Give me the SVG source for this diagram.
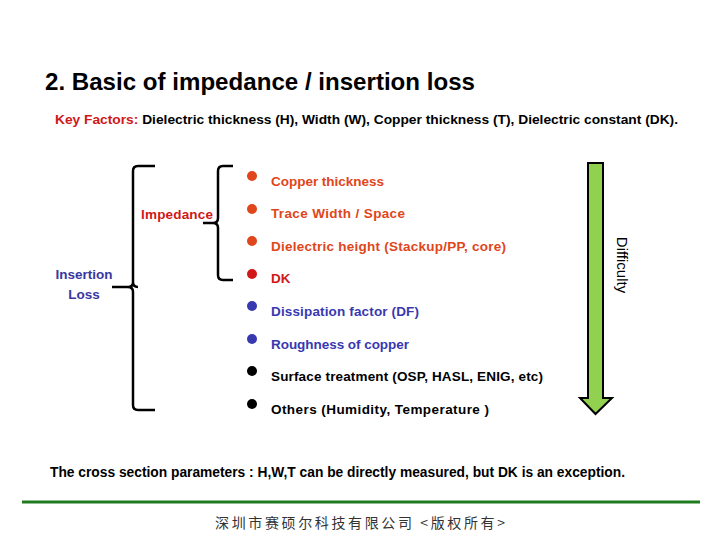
<svg xmlns="http://www.w3.org/2000/svg" width="720" height="540" viewBox="0 0 720 540">
<style>
text{font-family:"Liberation Sans",Arial,sans-serif;font-weight:bold}
.it{font-size:13.5px}
.o{fill:#E0461B}.r{fill:#D01818}.b{fill:#3838B0}.k{fill:#000}
.br{fill:none;stroke:#000;stroke-width:2.5}
</style>
<rect width="720" height="540" fill="#fff"/>
<text x="45" y="90" font-size="24" textLength="430" lengthAdjust="spacingAndGlyphs">2. Basic of impedance / insertion loss</text>
<text x="55" y="124" font-size="13" textLength="623" lengthAdjust="spacingAndGlyphs"><tspan fill="#D01818">Key Factors: </tspan><tspan fill="#000">Dielectric thickness (H), Width (W), Copper thickness (T), Dielectric constant (DK).</tspan></text>
<g id="connectors">
<path class="br" d="M155,166 H138 Q133,166 133,171 V282 Q133,287 128,287 H112 M133,282 Q133,287 138,287 M133,292 V405 Q133,410 138,410 H155 M128,287 Q133,287 133,292"/>
<path class="br" d="M233,166 H223 Q218,166 218,171 V218 Q218,223 213,223 H203 M218,228 V275 Q218,280 223,280 H233 M213,223 Q218,223 218,228"/>
</g>
<g id="insertion-loss"><text x="84" y="279" text-anchor="middle" font-size="13.5" fill="#3838A0">Insertion</text><text x="84" y="299" text-anchor="middle" font-size="13.5" fill="#3838A0">Loss</text></g>
<g id="impedance"><text x="213" y="219" text-anchor="end" font-size="13.5" fill="#D01818" textLength="72">Impedance</text></g>
<g id="items">
<circle cx="252" cy="176" r="5" class="o"/><text x="271" y="186" class="it o" textLength="113">Copper thickness</text>
<circle cx="252" cy="209" r="5" class="o"/><text x="271" y="218" class="it o" textLength="134">Trace Width / Space</text>
<circle cx="252" cy="241" r="5" class="o"/><text x="271" y="251" class="it o" textLength="235">Dielectric height (Stackup/PP, core)</text>
<circle cx="252" cy="274" r="5" class="r"/><text x="271" y="283" class="it r">DK</text>
<circle cx="252" cy="306" r="5" class="b"/><text x="271" y="316" class="it b" textLength="148">Dissipation factor (DF)</text>
<circle cx="252" cy="339" r="5" class="b"/><text x="271" y="349" class="it b" textLength="138">Roughness of copper</text>
<circle cx="252" cy="371" r="5" class="k"/><text x="271" y="381" class="it k" textLength="272">Surface treatment (OSP, HASL, ENIG, etc)</text>
<circle cx="252" cy="404" r="5" class="k"/><text x="271" y="414" class="it k" textLength="218">Others (Humidity, Temperature )</text>
</g>
<g id="difficulty">
<path d="M588,163 H603 V398 H612 L595.5,414 L580,398 H588 Z" fill="#92D050" stroke="#000" stroke-width="2"/>
<text transform="translate(617,265) rotate(90)" text-anchor="middle" font-size="15" style="font-weight:normal">Difficulty</text>
</g>
<text x="50" y="477" font-size="14" textLength="575" lengthAdjust="spacingAndGlyphs">The cross section parameters : H,W,T can be directly measured, but DK is an exception.</text>
<line x1="22" y1="502" x2="700" y2="502" stroke="#1E7B1E" stroke-width="3"/>
<text x="360" y="528" text-anchor="middle" font-size="14" fill="#333" style="font-family:'Noto Sans CJK SC',sans-serif;font-weight:normal" textLength="290">深圳市赛硕尔科技有限公司 &lt;版权所有&gt;</text>
</svg>
